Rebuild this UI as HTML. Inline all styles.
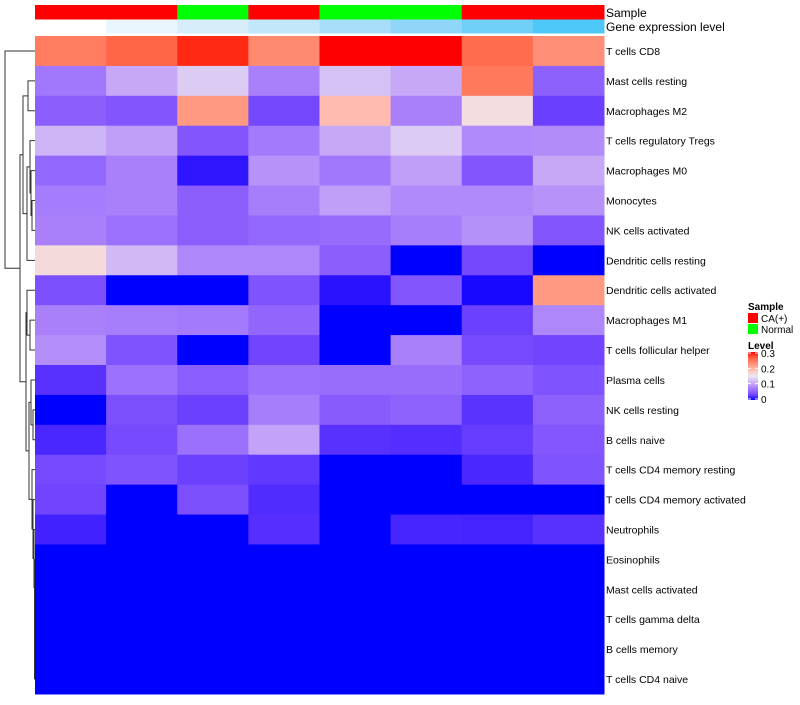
<!DOCTYPE html>
<html><head><meta charset="utf-8"><style>
body{margin:0;background:#fff;font-family:"Liberation Sans",sans-serif}
svg text{font-family:"Liberation Sans",sans-serif}
</style></head><body>
<svg id="chart" width="800" height="700"></svg>
<script>
const rowLabels=["T cells CD8","Mast cells resting","Macrophages M2","T cells regulatory  Tregs","Macrophages M0","Monocytes","NK cells activated","Dendritic cells resting","Dendritic cells activated","Macrophages M1","T cells follicular helper","Plasma cells","NK cells resting","B cells naive","T cells CD4 memory resting","T cells CD4 memory activated","Neutrophils","Eosinophils","Mast cells activated","T cells gamma delta","B cells memory","T cells CD4 naive"];
const sampleGroups=["CA(+)","CA(+)","Normal","CA(+)","Normal","Normal","CA(+)","CA(+)"];
const geneLevels=[0,1,2,3,4,5,6,7];
const values=[
[0.243,0.26,0.292,0.232,0.3,0.3,0.255,0.228],
[0.068,0.104,0.13,0.075,0.122,0.104,0.245,0.052],
[0.051,0.044,0.22,0.035,0.19,0.075,0.16,0.029],
[0.113,0.097,0.044,0.07,0.104,0.13,0.082,0.084],
[0.057,0.075,0.006,0.088,0.068,0.097,0.044,0.104],
[0.072,0.075,0.051,0.073,0.097,0.082,0.082,0.088],
[0.075,0.064,0.051,0.057,0.06,0.073,0.086,0.044],
[0.163,0.116,0.08,0.08,0.051,0,0.035,0],
[0.04,0,0,0.042,0.005,0.044,0.002,0.22],
[0.075,0.073,0.07,0.056,0,0,0.03,0.08],
[0.085,0.042,0,0.033,0,0.075,0.037,0.033],
[0.02,0.064,0.05,0.063,0.061,0.061,0.053,0.042],
[0,0.04,0.03,0.073,0.048,0.053,0.021,0.052],
[0.014,0.037,0.063,0.1,0.02,0.018,0.027,0.045],
[0.036,0.043,0.03,0.024,0,0,0.014,0.043],
[0.033,0,0.04,0.017,0,0,0,0],
[0.011,0,0,0.019,0,0.013,0.012,0.02],
[0,0,0,0,0,0,0,0],[0,0,0,0,0,0,0,0],[0,0,0,0,0,0,0,0],[0,0,0,0,0,0,0,0],[0,0,0,0,0,0,0,0]];
const levelTicks=[0,0.1,0.2,0.3];

const NS="http://www.w3.org/2000/svg";
const svg=document.getElementById('chart');
function mk(tag,a,p){const e=document.createElementNS(NS,tag);for(const k in a)e.setAttribute(k,a[k]);(p||svg).appendChild(e);return e;}
const X0=35,X1=604,Y0=36,Y1=694;
const cw=(X1-X0)/8, rh=(Y1-Y0)/rowLabels.length;
const xs=i=>X0+i*cw, ys=i=>Y0+i*rh;
function toLab(r,g,b){const f=c=>{c/=255;return c>0.04045?Math.pow((c+0.055)/1.055,2.4):c/12.92};
const R=f(r),G=f(g),B=f(b);
let x=(R*0.4124+G*0.3576+B*0.1805)/0.95047,y=R*0.2126+G*0.7152+B*0.0722,z=(R*0.0193+G*0.1192+B*0.9505)/1.08883;
const h=q=>q>0.008856?Math.cbrt(q):7.787*q+16/116;x=h(x);y=h(y);z=h(z);return [116*y-16,500*(x-y),200*(y-z)];}
function fromLab(L,A,BB){let y=(L+16)/116;let x=A/500+y;let z=y-BB/200;
const h=q=>q*q*q>0.008856?q*q*q:(q-16/116)/7.787;
x=h(x)*0.95047;y=h(y);z=h(z)*1.08883;
const r=x*3.2406+y*-1.5372+z*-0.4986,g=x*-0.9689+y*1.8758+z*0.0415,b=x*0.0557+y*-0.2040+z*1.0570;
const f=c=>{c=c>0.0031308?1.055*Math.pow(c,1/2.4)-0.055:12.92*c;return Math.max(0,Math.min(255,Math.round(c*255)))};
return "rgb("+f(r)+","+f(g)+","+f(b)+")";}
const cB=toLab(0,0,255),cW=toLab(236,232,240),cR=toLab(255,0,0);
function col(v){v=Math.max(0,Math.min(0.3,v));let p,q,s;if(v<0.15){p=cB;q=cW;s=v/0.15}else{p=cW;q=cR;s=(v-0.15)/0.15}
return fromLab(p[0]+(q[0]-p[0])*s,p[1]+(q[1]-p[1])*s,p[2]+(q[2]-p[2])*s);}
const geneCols=["#ffffff","#eaf6fe","#d8edfa","#c2e7fa","#a9defa","#8fd6f8","#70d0f8","#4dc8f8"];
sampleGroups.forEach((g,i)=>{const r=mk('rect',{x:xs(i),y:5,width:cw+0.5,height:14.5,fill:g==="Normal"?"#00ff00":"#ff0000"});

});
geneLevels.forEach((g,i)=>{const r=mk('rect',{x:xs(i),y:19.5,width:cw+0.5,height:14,fill:geneCols[g]});

});
let t=mk('text',{x:606,y:17,'font-size':12});t.textContent="Sample";


t=mk('text',{x:606,y:31,'font-size':12});t.textContent="Gene expression level";


values.forEach((row,r)=>row.forEach((v,c)=>{const e=mk('rect',{x:xs(c),y:ys(r),width:cw+0.5,height:rh+0.5,fill:col(v)});

}));
rowLabels.forEach((l,r)=>{const e=mk('text',{x:606,y:ys(r)+rh/2+4,'font-size':10.5,fill:'#000'});e.textContent=l;

});
const U=[[1,2,28],[[3,[4,[5,6,32],31],30],7,27],23];
const Lt=[[19,[20,21,34.5],34.5]];
const L4=[16,[17,[18,Lt[0],34.5],34.5],34];
const L=[[8,[9,10,30],27],[[11,[12,13,33],31],[14,[15,L4,33],32],29],26];
const tree=[0,[U,L,20],5];
const dg=mk('g',{stroke:'#333','stroke-width':1,fill:'none'});


function draw(n){if(typeof n==='number')return {y:ys(n)+rh/2,x:35};const a=draw(n[0]),b=draw(n[1]),h=n[2];
mk('path',{d:"M"+a.x+","+a.y+"H"+h+"V"+b.y+"H"+b.x},dg);return {y:(a.y+b.y)/2,x:h};}
draw(tree);
t=mk('text',{x:748,y:310,'font-size':10,'font-weight':'bold'});t.textContent="Sample";


[["CA(+)","#ff0000",313],["Normal","#00ff00",324]].forEach(([n,c,y])=>{const g=mk('g',{});


mk('rect',{x:748,y:y,width:10,height:10,fill:c},g);const tt=mk('text',{x:761,y:y+9,'font-size':10},g);tt.textContent=n;});
t=mk('text',{x:748,y:349,'font-size':10,'font-weight':'bold'});t.textContent="Level";


const defs=mk('defs',{});const lg=mk('linearGradient',{id:'lg',x1:0,y1:1,x2:0,y2:0},defs);
for(let i=0;i<=10;i++){mk('stop',{offset:i/10,'stop-color':col(0.3*i/10)},lg);}
const bar=mk('rect',{x:748,y:352,width:10,height:48,fill:'url(#lg)'});


levelTicks.forEach(v=>{const y=399-v/0.3*46;mk('line',{x1:748,x2:751,y1:y,y2:y,stroke:'#fff'});mk('line',{x1:755,x2:758,y1:y,y2:y,stroke:'#fff'});
const tt=mk('text',{x:761,y:y+4,'font-size':10});tt.textContent=v;

});
</script>
</body></html>
